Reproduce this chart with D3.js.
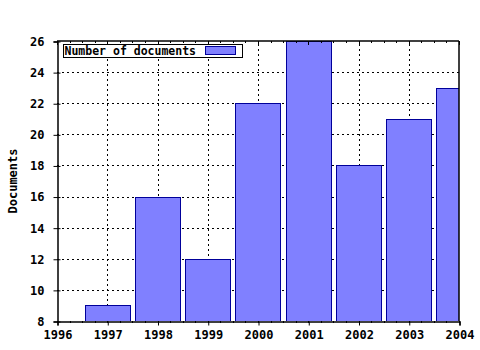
<!DOCTYPE html>
<html>
<head>
<meta charset="utf-8">
<script src="https://cdn.jsdelivr.net/npm/d3@7"></script>
<style>
  body { margin: 0; background: #fff; }
  svg text { font-family: "DejaVu Sans Mono", monospace; font-weight: bold; font-size: 12px; }
</style>
</head>
<body>
<svg id="chart" width="480" height="350"></svg>
<script>
// values
let years = [1997, 1998, 1999, 2000, 2001, 2002, 2003, 2004]
let docs = [9, 16, 12, 22, 26, 18, 21, 23]
let yTicks = [8, 10, 12, 14, 16, 18, 20, 22, 24, 26]
let xTicks = [1996, 1997, 1998, 1999, 2000, 2001, 2002, 2003, 2004]

let margin = {top: 41, right: 21, bottom: 29, left: 57}
let width = 480, height = 350

const svg = d3.select("#chart")

let x = d3.scaleLinear().domain([1996, 2004]).range([margin.left, width - margin.right])
let y = d3.scaleLinear().domain([8, 26]).range([height - margin.bottom, margin.top])

svg.append("defs").append("clipPath").attr("id", "plot")
    .append("rect")
    .attr("x", x(1996)).attr("y", y(26))
    .attr("width", x(2004) - x(1996)).attr("height", y(8) - y(26))

// grid
let grid = svg.append("g").attr("stroke", "#000").attr("stroke-dasharray", "2,3").attr("stroke-width", 1)
grid.selectAll("line.h").data(yTicks.slice(1, -1)).join("line")
    .attr("x1", x(1996)).attr("x2", x(2004))
    .attr("y1", d => Math.round(y(d)) + 0.5).attr("y2", d => Math.round(y(d)) + 0.5)
grid.selectAll("line.v").data(xTicks.slice(1, -1)).join("line")
    .attr("class", "v")
    .attr("y1", y(8)).attr("y2", y(26))
    .attr("x1", d => Math.round(x(d)) + 0.5).attr("x2", d => Math.round(x(d)) + 0.5)

// bars
let bw = (x(1997) - x(1996)) * 0.9
svg.append("g")
    .attr("clip-path", "url(#plot)")
    .selectAll("rect")
    .data(years)
    .join("rect")
    .attr("fill", "#8080ff")
    .attr("stroke", "#00009a")
    .attr("stroke-width", 1)
    .attr("x", d => Math.round(x(d) - bw / 2) + 0.5)
    .attr("y", (d, i) => Math.round(y(docs[i])) + 0.5)
    .attr("width", Math.round(bw))
    .attr("height", (d, i) => Math.round(y(8)) - Math.round(y(docs[i])))

// axes
let xAxis = d3.axisBottom(x).tickValues(xTicks).tickFormat(d3.format("d")).tickSize(4).tickPadding(5)
let xMinor = d3.range(1996, 2004.01, 0.25)
let gx = svg.append("g")
    .attr("transform", `translate(0.5,${Math.round(y(8)) + 0.5})`)
    .call(xAxis)
gx.selectAll("text").attr("fill", "#000")
gx.select(".domain").attr("stroke-width", 1.5)
svg.append("g").selectAll("line").data(xMinor).join("line")
    .attr("stroke", "#000")
    .attr("x1", d => Math.round(x(d)) + 0.5).attr("x2", d => Math.round(x(d)) + 0.5)
    .attr("y1", y(8)).attr("y2", y(8) + 2)
// top axis
svg.append("line").attr("stroke", "#000").attr("stroke-width", 1.5)
    .attr("x1", x(1996)).attr("x2", x(2004)).attr("y1", y(26)).attr("y2", y(26))
svg.append("g").selectAll("line").data(xMinor).join("line")
    .attr("stroke", "#000")
    .attr("x1", d => Math.round(x(d)) + 0.5).attr("x2", d => Math.round(x(d)) + 0.5)
    .attr("y1", y(26)).attr("y2", d => y(26) + (Number.isInteger(d) ? 4 : 2))
// right axis
svg.append("line").attr("stroke", "#000").attr("stroke-width", 1.5)
    .attr("x1", x(2004)).attr("x2", x(2004)).attr("y1", y(26)).attr("y2", y(8))

let yAxis = d3.axisLeft(y).tickValues(yTicks).tickSize(4).tickPadding(9)
let gy = svg.append("g")
    .attr("transform", `translate(${Math.round(x(1996)) + 0.5},0.5)`)
    .call(yAxis)
gy.select(".domain").attr("stroke-width", 1.5)
gy.selectAll(".tick line").attr("x1", 3)

svg.append("text")
    .attr("transform", `translate(17,${(y(8) + y(26)) / 2}) rotate(-90)`)
    .attr("text-anchor", "middle")
    .text("Documents")

// legend
let lg = svg.append("g").attr("transform", "translate(63.5,44.5)")
lg.append("rect").attr("width", 179).attr("height", 13)
    .attr("fill", "#fff").attr("stroke", "#000")
lg.append("text").attr("x", 1).attr("y", 10.5).style("font-size", "11.5px").text("Number of documents")
lg.append("rect").attr("x", 142).attr("y", 2).attr("width", 30).attr("height", 8)
    .attr("fill", "#8080ff").attr("stroke", "#00009a")
</script>
</body>
</html>
